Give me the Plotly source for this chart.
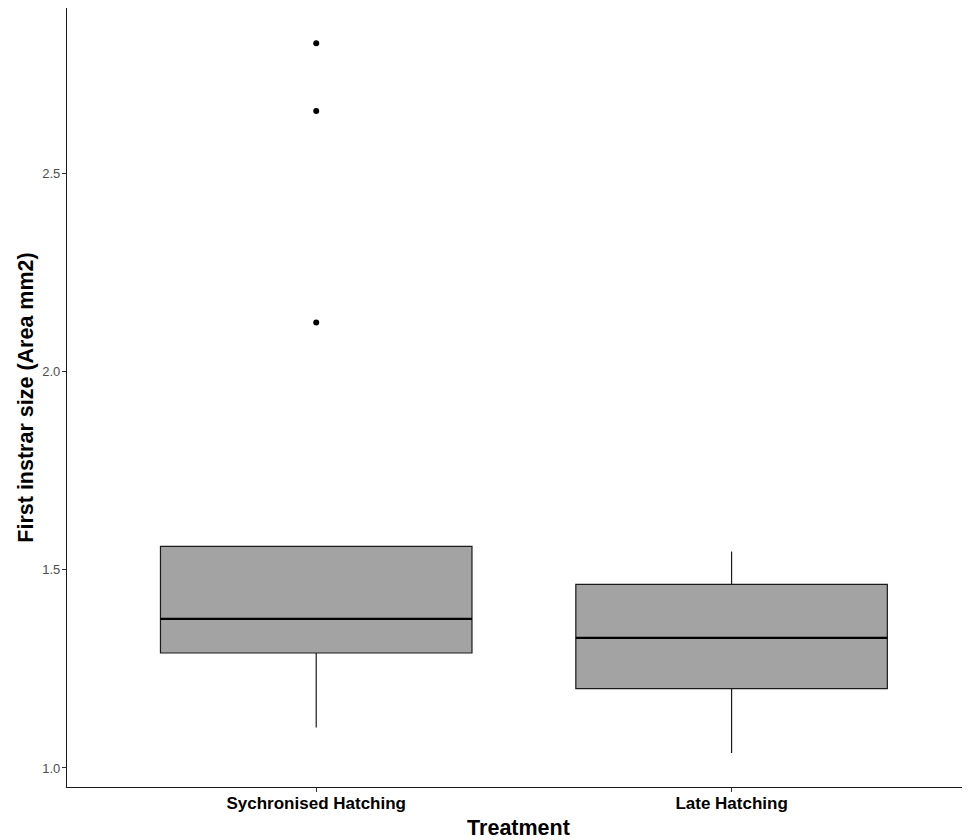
import plotly.graph_objects as go

categories = ["Sychronised Hatching", "Late Hatching"]
q1 = [1.290, 1.200]
median = [1.376, 1.328]
q3 = [1.559, 1.463]
lower_whisker = [1.102, 1.038]
upper_whisker = [1.559, 1.546]
outlier_x = ["Sychronised Hatching", "Sychronised Hatching", "Sychronised Hatching"]
outlier_y = [2.828, 2.657, 2.124]
y_ticks = [1.0, 1.5, 2.0, 2.5]

fig = go.Figure()
fig.add_trace(go.Box(
    x=categories, q1=q1, median=median, q3=q3,
    lowerfence=lower_whisker, upperfence=upper_whisker,
    fillcolor="#A3A3A3", line=dict(color="#1a1a1a", width=1.2),
    boxpoints=False, whiskerwidth=0, showlegend=False, hoverinfo="skip",
))
# thicker median line
fig.add_trace(go.Box(
    x=categories, q1=median, median=median, q3=median,
    lowerfence=median, upperfence=median,
    fillcolor="rgba(0,0,0,0)", line=dict(color="#000000", width=2.2),
    boxpoints=False, whiskerwidth=0, showlegend=False, hoverinfo="skip",
))
fig.add_trace(go.Scatter(
    x=outlier_x, y=outlier_y, mode="markers",
    marker=dict(color="black", size=6), showlegend=False,
))

# page body has an 8px margin, so the figure is offset by 8px
fig.update_layout(
    width=962, height=832,
    margin=dict(l=59, r=0, t=0, b=53),
    plot_bgcolor="white", paper_bgcolor="white",
    boxmode="overlay", boxgap=0.25, boxgroupgap=0,
    font=dict(family="Liberation Sans, Arial, sans-serif"),
)
fig.update_xaxes(
    type="category", categoryorder="array", categoryarray=categories,
    range=[-0.6, 1.574], automargin=False,
    showline=True, linecolor="#1a1a1a", linewidth=1.2, mirror=False,
    ticks="outside", ticklen=4, tickcolor="#333333", tickwidth=1,
    ticklabelstandoff=-4,
    tickfont=dict(size=17, color="black", family="Liberation Sans, Arial, sans-serif", weight="bold"),
    showgrid=False, zeroline=False,
    title=dict(text="<b>Treatment</b>", font=dict(size=21.5, color="black"), standoff=8),
)
fig.update_yaxes(
    range=[0.952, 2.917], automargin=False,
    tickvals=y_ticks, ticktext=[f"{v:.1f}" for v in y_ticks],
    showline=True, linecolor="#1a1a1a", linewidth=1.2,
    ticks="outside", ticklen=4, tickcolor="#333333", tickwidth=1,
    ticklabelstandoff=-1,
    tickfont=dict(size=13, color="#4D4D4D"),
    showgrid=False, zeroline=False,
    title=dict(text="<b>First instrar size (Area mm2)</b>", font=dict(size=21.5, color="black"), standoff=2),
)

fig.write_html("out.html")
